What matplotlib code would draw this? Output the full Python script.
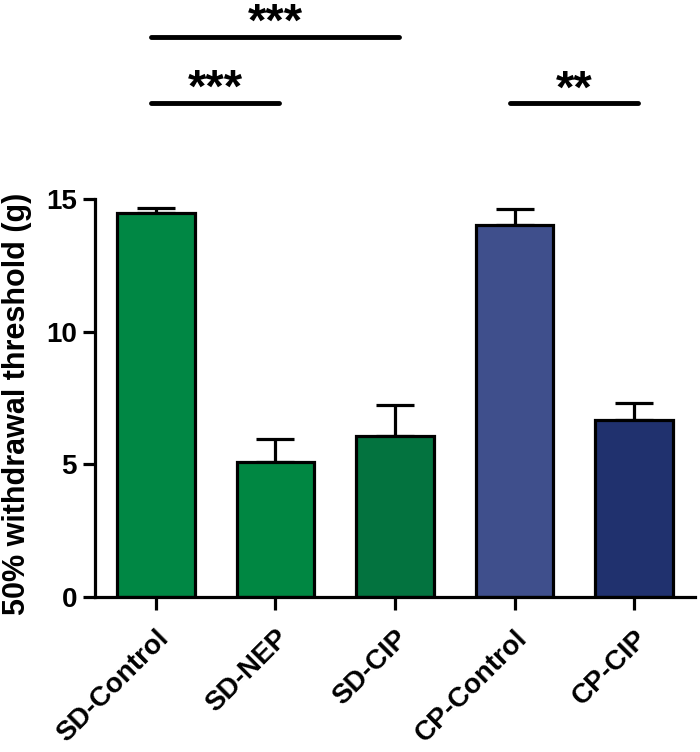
import numpy as np
import matplotlib
matplotlib.use('Agg')
import matplotlib.pyplot as plt

# Datos del grafico
grupos = ['SD-Control', 'SD-NEP', 'SD-CIP', 'CP-Control', 'CP-CIP']
medias = [14.47, 5.09, 6.07, 14.02, 6.67]
errores = [0.19, 0.86, 1.17, 0.60, 0.65]
colores = ['#008744', '#008742', '#03733f', '#3f4f8c', '#20316e']

# Comparaciones significativas (grupo i, grupo j, altura linea, altura texto, etiqueta)
comparaciones = [(0, 2, 21.1, 21.62, '***'), (0, 1, 18.6, 19.11, '***'),
                 (3, 4, 18.6, 19.07, '**')]

plt.rcParams['font.family'] = ['Liberation Sans', 'DejaVu Sans']
plt.rcParams['font.weight'] = 'bold'

fig = plt.figure(figsize=(7, 7.52), dpi=100)
ax = fig.add_axes([95/700, 1 - 597/752, 600/700, 398/752])

x = np.arange(len(grupos))
ax.bar(x, medias, width=0.65, color=colores, edgecolor='black', linewidth=2.3, zorder=2)
ax.errorbar(x, medias, yerr=[np.zeros(len(errores)), errores], fmt='none',
            ecolor='black', elinewidth=2.3, capsize=14, capthick=2.3, zorder=1)

ax.set_xlim(-0.51, 4.51)
ax.set_ylim(0, 15)
ax.set_yticks([0, 5, 10, 15])
ax.set_xticks(x)
ax.set_xticklabels(grupos, rotation=45, ha='right', rotation_mode='anchor',
                   fontsize=20, fontweight='bold')
for lab in ax.get_yticklabels():
    lab.set_fontsize(20)
    lab.set_fontweight('bold')
ax.tick_params(axis='both', width=2.3, length=9, direction='out')
ax.tick_params(axis='x', pad=11)
ax.tick_params(axis='y', pad=4)
ax.spines['top'].set_visible(False)
ax.spines['right'].set_visible(False)
ax.spines['left'].set_linewidth(2.3)
ax.spines['bottom'].set_linewidth(2.3)
ax.set_ylabel('50% withdrawal threshold (g)', fontsize=22, fontweight='bold')
ax.yaxis.set_label_coords(-0.105, 0.484)

for i, j, h, ht, txt in comparaciones:
    ax.plot([i - 0.04, j + 0.03], [h, h], color='black', lw=3.5,
            solid_capstyle='round', clip_on=False)
    ax.text((i + j) / 2, ht, txt, ha='center', va='center', fontsize=34,
            fontweight='bold', clip_on=False)

fig.savefig('out.png', dpi=100)
